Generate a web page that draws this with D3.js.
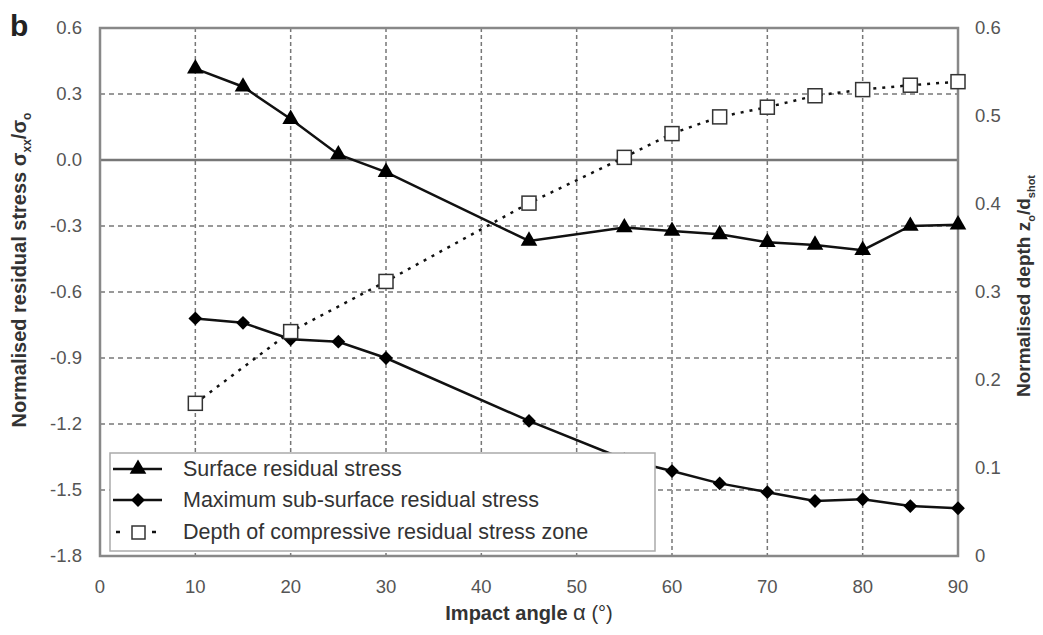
<!DOCTYPE html>
<html>
  <head>
    <meta charset="utf-8">
    <title>Residual stress vs impact angle</title>
    <script src="https://cdn.jsdelivr.net/npm/d3@7"></script>
    <style>
      html, body { margin: 0; padding: 0; background: #fff; overflow: hidden; }
      svg { display: block; }
      text { font-family: "Liberation Sans", Arial, sans-serif; }
    </style>
  </head>
  <body>
    <svg width="1043" height="635" id="mainsvg"></svg>
    <script>
        // data
        const surfaceAngle = [10, 15, 20, 25, 30, 45, 55, 60, 65, 70, 75, 80, 85, 90];
        const surfaceStress = [0.415, 0.333, 0.186, 0.025, -0.055, -0.368, -0.307, -0.323, -0.338, -0.374, -0.386, -0.41, -0.3, -0.294];

        const subAngle = [10, 15, 20, 25, 30, 45, 55, 60, 65, 70, 75, 80, 85, 90];
        const subStress = [-0.72, -0.74, -0.815, -0.826, -0.9, -1.186, -1.36, -1.414, -1.47, -1.51, -1.55, -1.542, -1.573, -1.583];

        const depthAngle = [10, 20, 30, 45, 55, 60, 65, 70, 75, 80, 85, 90];
        const depthValue = [0.1735, 0.255, 0.312, 0.401, 0.453, 0.48, 0.499, 0.51, 0.523, 0.53, 0.535, 0.539];

        const xTicks = [0, 10, 20, 30, 40, 50, 60, 70, 80, 90];
        const leftTicks = [0.6, 0.3, 0.0, -0.3, -0.6, -0.9, -1.2, -1.5, -1.8];
        const rightTicks = [0, 0.1, 0.2, 0.3, 0.4, 0.5, 0.6];

        const legendNames = ['Surface residual stress',
            'Maximum sub-surface residual stress',
            'Depth of compressive residual stress zone'];

        // canvas
        const svg = d3.select('#mainsvg');
        const margin = {top: 28, right: 85, bottom: 79, left: 100};
        const innerWidth = 1043 - margin.left - margin.right;
        const innerHeight = 635 - margin.top - margin.bottom;
        const g = svg.append('g')
            .attr('transform', `translate(${margin.left}, ${margin.top})`);

        const x = d3.scaleLinear().domain([0, 90]).range([0, innerWidth]);
        const yL = d3.scaleLinear().domain([-1.8, 0.6]).range([innerHeight, 0]);
        const yR = d3.scaleLinear().domain([0, 0.6]).range([innerHeight, 0]);

        // grid
        g.selectAll('.vgrid').data(xTicks.slice(1, -1)).enter().append('line')
            .attr('class', 'vgrid')
            .attr('x1', d => x(d)).attr('x2', d => x(d))
            .attr('y1', 0).attr('y2', innerHeight)
            .attr('stroke', '#777').attr('stroke-width', 1.5)
            .attr('stroke-dasharray', '4,3');
        g.selectAll('.hgrid').data(leftTicks.filter(d => d !== 0 && d !== 0.6 && d !== -1.8)).enter().append('line')
            .attr('class', 'hgrid')
            .attr('x1', 0).attr('x2', innerWidth)
            .attr('y1', d => yL(d)).attr('y2', d => yL(d))
            .attr('stroke', '#999').attr('stroke-width', 2)
            .attr('stroke-dasharray', '5,4');
        g.append('line')
            .attr('x1', 0).attr('x2', innerWidth)
            .attr('y1', yL(0)).attr('y2', yL(0))
            .attr('stroke', '#777').attr('stroke-width', 2.5);

        // frame
        g.append('rect')
            .attr('width', innerWidth).attr('height', innerHeight)
            .attr('fill', 'none').attr('stroke', '#888').attr('stroke-width', 2.5);

        // tick labels (placed from the scales)
        const tickFont = '18.5px';
        const fmt = d3.format('.1f');
        const xLab = g.append('g').attr('class', 'x-labels');
        xTicks.forEach(d => {
            xLab.append('text').attr('class', 'tick-label')
                .attr('x', x(d)).attr('y', innerHeight + 37)
                .attr('text-anchor', 'middle').attr('fill', '#555').style('font-size', tickFont)
                .text(String(d));
        });
        const lLab = g.append('g').attr('class', 'yl-labels');
        leftTicks.forEach(d => {
            lLab.append('text').attr('class', 'tick-label')
                .attr('x', -18).attr('y', yL(d) + 6)
                .attr('text-anchor', 'end').attr('fill', '#555').style('font-size', tickFont)
                .text(fmt(d).replace('−', '-'));
        });
        const rLab = g.append('g').attr('class', 'yr-labels');
        rightTicks.forEach(d => {
            rLab.append('text').attr('class', 'tick-label')
                .attr('x', innerWidth + 17).attr('y', yR(d) + 6)
                .attr('text-anchor', 'start').attr('fill', '#555').style('font-size', tickFont)
                .text(d === 0 ? '0' : fmt(d));
        });

        // series
        const line = d3.line();
        const surfPts = surfaceAngle.map((a, i) => [x(a), yL(surfaceStress[i])]);
        const subPts = subAngle.map((a, i) => [x(a), yL(subStress[i])]);
        const depthPts = depthAngle.map((a, i) => [x(a), yR(depthValue[i])]);

        g.append('path').attr('d', line(depthPts))
            .attr('fill', 'none').attr('stroke', '#111').attr('stroke-width', 2.5)
            .attr('stroke-dasharray', '3,6');
        g.append('path').attr('d', line(surfPts))
            .attr('fill', 'none').attr('stroke', '#111').attr('stroke-width', 2.5);
        g.append('path').attr('d', line(subPts))
            .attr('fill', 'none').attr('stroke', '#111').attr('stroke-width', 2.5);

        const tri = d3.symbol().type(d3.symbolTriangle).size(120);
        const dia = d3.symbol().type(d3.symbolSquare).size(95);

        g.selectAll('.tri').data(surfPts).enter().append('path')
            .attr('class', 'tri')
            .attr('d', tri).attr('transform', d => `translate(${d[0]}, ${d[1]})`)
            .attr('fill', '#000');
        g.selectAll('.dia').data(subPts).enter().append('path')
            .attr('class', 'dia')
            .attr('d', dia).attr('transform', d => `translate(${d[0]}, ${d[1]}) rotate(45)`)
            .attr('fill', '#000');
        g.selectAll('.sq').data(depthPts).enter().append('rect')
            .attr('class', 'sq')
            .attr('x', d => d[0] - 7).attr('y', d => d[1] - 7)
            .attr('width', 14).attr('height', 14)
            .attr('fill', '#fff').attr('stroke', '#333').attr('stroke-width', 1.5);

        // legend
        const lg = g.append('g').attr('transform', 'translate(10, 425)');
        lg.append('rect').attr('width', 545).attr('height', 98)
            .attr('fill', '#fff').attr('stroke', '#aaa').attr('stroke-width', 1.5);
        const rows = [16, 47, 79];
        legendNames.forEach((name, i) => {
            const yy = rows[i];
            if (i < 2) {
                lg.append('line').attr('x1', 3).attr('x2', 52).attr('y1', yy).attr('y2', yy)
                    .attr('stroke', '#111').attr('stroke-width', 2.5);
                lg.append('path').attr('d', i === 0 ? tri : dia)
                    .attr('transform', `translate(28, ${yy})` + (i === 1 ? ' rotate(45)' : ''))
                    .attr('fill', '#000');
            } else {
                lg.append('line').attr('x1', 6).attr('x2', 52).attr('y1', yy).attr('y2', yy)
                    .attr('stroke', '#111').attr('stroke-width', 2.5)
                    .attr('stroke-dasharray', '4,14');
                lg.append('rect').attr('x', 22).attr('y', yy - 6).attr('width', 13).attr('height', 13)
                    .attr('fill', '#fff').attr('stroke', '#333').attr('stroke-width', 1.5);
            }
            lg.append('text').attr('x', 73).attr('y', yy + 7)
                .attr('fill', '#333').style('font-size', '21.5px').text(name);
        });

        // titles
        svg.append('text').attr('x', 10).attr('y', 36)
            .style('font-size', '30px').style('font-weight', 'bold').attr('fill', '#222').text('b');

        const xt = svg.append('text').attr('x', margin.left + innerWidth / 2).attr('y', 620)
            .attr('text-anchor', 'middle').style('font-size', '20px').style('font-weight', 'bold')
            .attr('fill', '#333');
        xt.append('tspan').text('Impact angle ');
        xt.append('tspan').style('font-weight', 'normal').style('font-size', '22px').text('α');
        xt.append('tspan').style('font-weight', 'normal').text(' (°)');

        const lt = svg.append('text')
            .attr('transform', `translate(26, ${margin.top + innerHeight / 2 - 22}) rotate(-90)`)
            .attr('text-anchor', 'middle').style('font-size', '20px').style('font-weight', 'bold')
            .attr('fill', '#333');
        lt.append('tspan').text('Normalised residual stress σ');
        lt.append('tspan').attr('dy', 5).style('font-size', '12px').text('xx');
        lt.append('tspan').attr('dy', -5).text('/σ');
        lt.append('tspan').attr('dy', 5).style('font-size', '12px').text('o');

        const rt = svg.append('text')
            .attr('transform', `translate(1030, ${margin.top + innerHeight / 2 - 6}) rotate(-90)`)
            .attr('text-anchor', 'middle').style('font-size', '19px').style('font-weight', 'bold')
            .attr('fill', '#333');
        rt.append('tspan').text('Normalised depth z');
        rt.append('tspan').attr('dy', 5).style('font-size', '11px').text('o');
        rt.append('tspan').attr('dy', -5).text('/d');
        rt.append('tspan').attr('dy', 5).style('font-size', '11px').text('shot');
    </script>
  </body>
</html>
